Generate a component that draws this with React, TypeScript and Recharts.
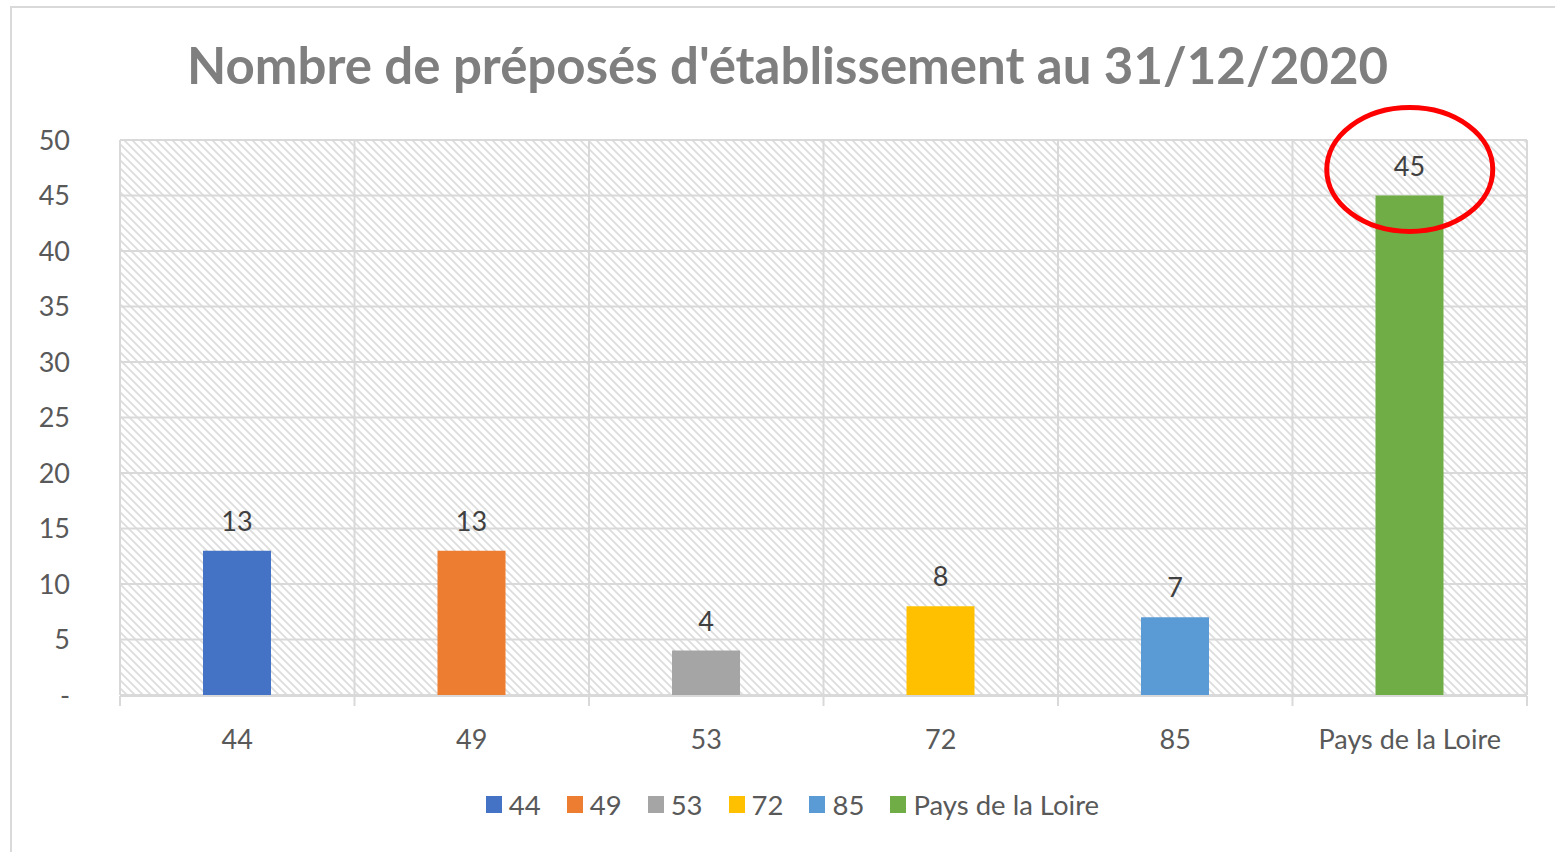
import React from 'react'
import {
  BarChart,
  Bar,
  XAxis,
  YAxis,
  CartesianGrid,
  Cell,
  LabelList,
  Legend,
  ReferenceDot,
} from 'recharts'

const categories = ['44', '49', '53', '72', '85', 'Pays de la Loire']
const values = [13, 13, 4, 8, 7, 45]
const barColors = ['#4472C4', '#ED7D31', '#A5A5A5', '#FFC000', '#5B9BD5', '#70AD47']
const yTicks = [0, 5, 10, 15, 20, 25, 30, 35, 40, 45, 50]
// category boundaries (0..6), used for the vertical grid and the x tick marks
const bandTicks = [0, 1, 2, 3, 4, 5, 6]

const data = categories.map((name, i) => ({ name, value: values[i], slot: i + 0.5 }))

const FONT = 'Lato, Carlito, Calibri, "Open Sans", sans-serif'
const GRID = '#d9d9d9'

function LegendBox() {
  return (
    <div style={{ display: 'flex', justifyContent: 'center', alignItems: 'center', fontFamily: FONT }}>
      {categories.map((c, i) => (
        <div key={c} style={{ display: 'flex', alignItems: 'center', marginRight: i < categories.length - 1 ? 26 : 0 }}>
          <span style={{ width: 16, height: 17, background: barColors[i], display: 'inline-block', marginRight: 7 }} />
          <span style={{ fontSize: 27.5, color: '#595959' }}>{c}</span>
        </div>
      ))}
    </div>
  )
}

function Ring(props: any) {
  const { cx, cy } = props
  return <ellipse cx={cx} cy={cy - 26} rx={83} ry={62} fill="none" stroke="#FF0000" strokeWidth={5} />
}

export default function App() {
  return (
    <div style={{ position: 'absolute', left: 0, top: 0, width: 1555, height: 852, overflow: 'hidden', background: '#fff', fontFamily: FONT }}>
      <svg width={0} height={0} style={{ position: 'absolute' }}>
        <defs>
          <pattern id="hatch" width={8} height={8} patternUnits="userSpaceOnUse">
            <rect width={8} height={8} fill="#ffffff" />
            <path d="M0,0 L8,8 M-2,6 L2,10 M6,-2 L10,2" stroke="#dcdcdc" strokeWidth={1.6} />
          </pattern>
        </defs>
      </svg>
      <div style={{ position: 'absolute', left: 10, top: 6, width: 1600, height: 900, border: `2px solid ${GRID}` }} />
      <div style={{ position: 'absolute', left: 0, top: 34, width: 1575, textAlign: 'center', fontSize: 51, fontWeight: 700, color: '#7f7f7f' }}>
        Nombre de préposés d'établissement au 31/12/2020
      </div>
      <div style={{ position: 'absolute', left: 0, top: 0 }}>
        <BarChart width={1555} height={852} data={data} margin={{ top: 140, right: 28, bottom: 155, left: 60 }}>
          <CartesianGrid xAxisId="band" fill="url(#hatch)" fillOpacity={1} stroke={GRID} strokeWidth={2} />
          <XAxis
            xAxisId="band"
            dataKey="slot"
            type="number"
            domain={[0, 6]}
            ticks={bandTicks}
            interval={0}
            height={1}
            tick={() => <g />}
            tickSize={10}
            tickLine={{ stroke: GRID, strokeWidth: 2 }}
            axisLine={{ stroke: GRID, strokeWidth: 2 }}
            allowDataOverflow
          />
          <XAxis
            dataKey="name"
            height={1}
            axisLine={false}
            tickLine={false}
            tickSize={0}
            tickMargin={35}
            tick={{ fontSize: 27, fill: '#595959', fontFamily: FONT }}
          />
          <YAxis
            domain={[0, 50]}
            ticks={yTicks}
            width={60}
            axisLine={false}
            tickLine={false}
            tickSize={0}
            tickMargin={50}
            tickFormatter={(v: number) => (v === 0 ? '-' : String(v))}
            tick={{ fontSize: 27, fill: '#595959', fontFamily: FONT }}
          />
          <Legend
            verticalAlign="middle"
            layout="horizontal"
            wrapperStyle={{ top: 788, left: 0, width: 1585 }}
            content={() => <LegendBox />}
          />
          <Bar dataKey="value" barSize={68} isAnimationActive={false}>
            {data.map((d, i) => (
              <Cell key={d.name} fill={barColors[i]} />
            ))}
            <LabelList dataKey="value" position="top" offset={20} style={{ fontSize: 27, fill: '#404040', fontFamily: FONT }} />
          </Bar>
          <ReferenceDot x="Pays de la Loire" y={45} shape={Ring} ifOverflow="visible" />
        </BarChart>
      </div>
    </div>
  )
}
